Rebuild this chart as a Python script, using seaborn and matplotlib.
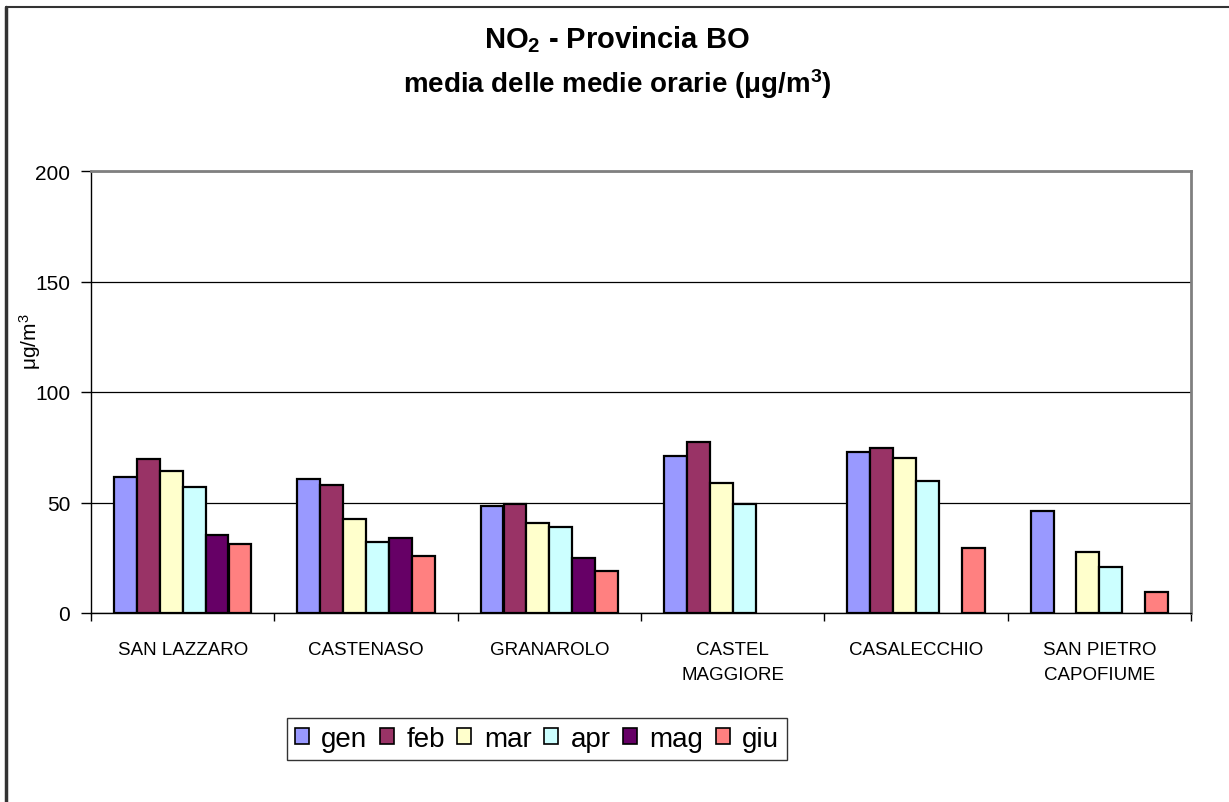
import numpy as np
import pandas as pd
import seaborn as sns
import matplotlib.pyplot as plt
import matplotlib.patches as patches
from matplotlib.ticker import FixedLocator

# Data (NaN = no bar)
stations = ["SAN LAZZARO", "CASTENASO", "GRANAROLO", "CASTEL\nMAGGIORE", "CASALECCHIO", "SAN PIETRO\nCAPOFIUME"]
months = ["gen", "feb", "mar", "apr", "mag", "giu"]
gen = [61.5, 60.8, 48.6, 71.2, 72.7, 46.0]
feb = [69.5, 58.1, 49.5, 77.3, 74.5, np.nan]
mar = [64.1, 42.6, 40.8, 58.8, 70.2, 27.7]
apr = [57.2, 32.1, 39.1, 49.3, 59.8, 20.8]
mag = [35.5, 34.0, 25.1, np.nan, np.nan, np.nan]
giu = [31.2, 26.0, 19.1, np.nan, 29.3, 9.5]
colors = ["#9999FF", "#993366", "#FFFFCC", "#CCFFFF", "#660066", "#FF8080"]

sns.set_style("white")
plt.rcParams["font.family"] = ["Liberation Sans", "DejaVu Sans"]
plt.rcParams["mathtext.default"] = "regular"
plt.rcParams["text.color"] = "black"
plt.rcParams["xtick.color"] = "black"
plt.rcParams["ytick.color"] = "black"

rows = []
for m, vals in zip(months, [gen, feb, mar, apr, mag, giu]):
    for s, v in zip(stations, vals):
        rows.append({"station": s, "month": m, "value": v})
df = pd.DataFrame(rows).dropna()

fig = plt.figure(figsize=(12.29, 8.03), dpi=100)
ax = fig.add_axes([91 / 1229, 1 - 614 / 803, 1100 / 1229, 442 / 803])

sns.barplot(
    data=df, x="station", y="value", hue="month",
    order=stations, hue_order=months, palette=colors, saturation=1,
    width=0.75, edgecolor="black", linewidth=1.6,
    errorbar=None, legend=False, ax=ax, zorder=3
)

# Axes styling (Excel-like)
ax.set_ylim(0, 200)
ax.set_xlim(-0.5, len(stations) - 0.5)
ax.set_yticks([0, 50, 100, 150, 200])
ax.yaxis.grid(True, color="black", linewidth=0.9, zorder=0)
ax.set_axisbelow(True)
for side in ["left", "bottom"]:
    ax.spines[side].set_color("black")
    ax.spines[side].set_linewidth(1.0)
for side in ["top", "right"]:
    ax.spines[side].set_color("#808080")
    ax.spines[side].set_linewidth(2.0)

ax.tick_params(axis="y", direction="out", length=7, width=1, color="black",
               labelsize=15, pad=8, left=True)
ax.tick_params(axis="x", which="major", length=0, labelsize=13.5, pad=20)
for lbl in ax.get_xticklabels():
    lbl.set_linespacing(1.6)
ax.xaxis.set_minor_locator(FixedLocator(np.arange(-0.5, len(stations), 1.0)))
ax.tick_params(axis="x", which="minor", direction="out", length=6, width=1,
               color="black", bottom=True)
ax.set_xlabel("")
ax.set_ylabel("")

# Titles
fig.text(617 / 1229, 1 - 40 / 803, r"NO$_2$ - Provincia BO", ha="center", va="center",
         fontsize=21, fontweight="bold")
fig.text(617 / 1229, 1 - 84 / 803, r"media delle medie orarie (μg/m$^3$)", ha="center",
         va="center", fontsize=20, fontweight="bold")

# Y label
fig.text(30 / 1229, 1 - 342 / 803, r"μg/m$^3$", rotation=90, ha="center", va="center",
         fontsize=15)

# Legend
handles = [patches.Patch(facecolor=c, edgecolor="black", linewidth=1.2, label=m)
           for c, m in zip(colors, months)]
leg = fig.legend(handles=handles, loc="center", ncol=6,
                 bbox_to_anchor=(537 / 1229, 1 - 740 / 803),
                 fontsize=20, frameon=True, fancybox=False, edgecolor="black",
                 handlelength=0.5, handleheight=0.5, handletextpad=0.45,
                 columnspacing=0.45, borderpad=0.3, borderaxespad=0)
leg.get_frame().set_linewidth(1.0)

# Outer frame (left and top edges visible)
fig.add_artist(plt.Line2D([6 / 1229, 6 / 1229], [0, 1 - 8 / 803], color="#333333",
                          linewidth=2.5, transform=fig.transFigure))
fig.add_artist(plt.Line2D([6 / 1229, 1], [1 - 8 / 803, 1 - 8 / 803], color="#333333",
                          linewidth=1.5, transform=fig.transFigure))

fig.savefig("out.png", dpi=100)
